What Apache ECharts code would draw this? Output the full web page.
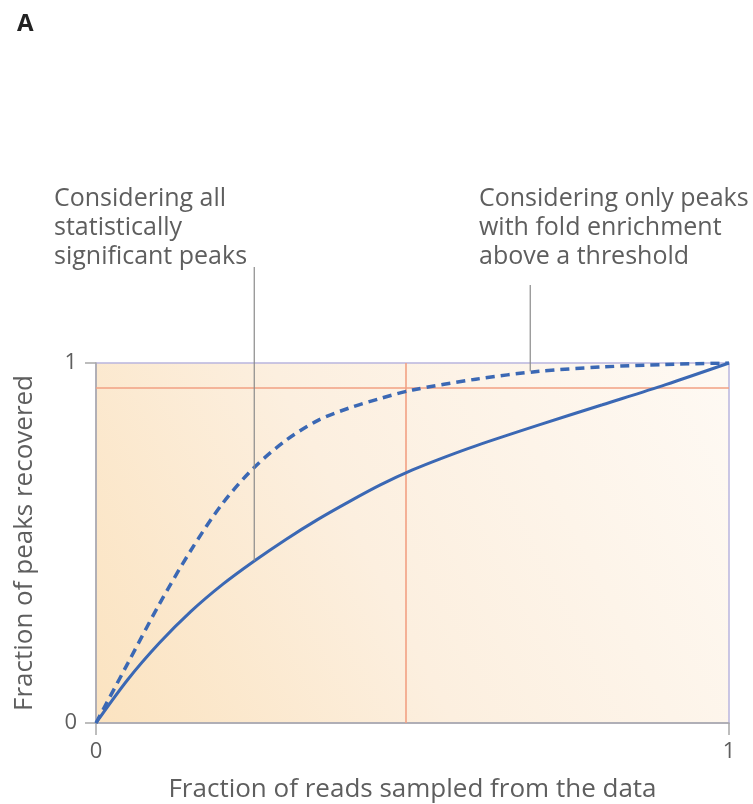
<!DOCTYPE html>
<html>
<head>
<meta charset="utf-8">
<script src="https://cdn.jsdelivr.net/npm/echarts@6/dist/echarts.min.js"></script>
<style>
  html, body { margin: 0; padding: 0; background: #ffffff; }
  #chart { width: 753px; height: 804px; }
</style>
</head>
<body>
<div id="chart"></div>
<script>
// Saturation curves: fraction of peaks recovered vs. fraction of reads sampled
const readFraction = [0, 0.05, 0.1, 0.15, 0.2, 0.25, 0.3, 0.35, 0.4, 0.45, 0.5, 0.55, 0.6, 0.7, 0.8, 0.9, 1];
const allPeaksRecovered = [0, 0.12, 0.222, 0.31, 0.385, 0.45, 0.51, 0.565, 0.615, 0.662, 0.703, 0.738, 0.77, 0.828, 0.884, 0.94, 1];

const readFractionFold = [0, 0.05, 0.1, 0.15, 0.2, 0.25, 0.3, 0.35, 0.4, 0.45, 0.5, 0.6, 0.7, 0.8, 0.9, 1];
const foldPeaksRecovered = [0, 0.165, 0.33, 0.48, 0.61, 0.71, 0.785, 0.84, 0.875, 0.902, 0.925, 0.955, 0.977, 0.989, 0.996, 1];

// Reference lines: fraction of reads where the thresholded set saturates
const thresholdRead = 0.49;
const thresholdRecovered = 0.925;

const xTicks = [0, 1];
const yTicks = [0, 1];

const annotationAll = ['Considering all', 'statistically', 'significant peaks'];
const annotationFold = ['Considering only peaks', 'with fold enrichment', 'above a threshold'];
const pointerAll = [0.25, 0.45];
const pointerFold = [0.686, 0.977];

const xTitle = 'Fraction of reads sampled from the data';
const yTitle = 'Fraction of peaks recovered';

const blue = '#3b68b4';
const red = '#f2a083';
const textColor = '#5e5e5e';
const font = '"Open Sans", Lato, sans-serif';

const chart = echarts.init(document.getElementById('chart'));

function pairs(xs, ys) { return xs.map((x, i) => [x, ys[i]]); }

const option = {
  animation: false,
  backgroundColor: '#ffffff',
  grid: {
    left: 96, right: 24, top: 363, bottom: 79,
    show: true,
    borderColor: '#b9b5de',
    borderWidth: 1.5,
    backgroundColor: new echarts.graphic.LinearGradient(0, 1, 1, 0.1, [
      { offset: 0, color: '#fbe3c0' },
      { offset: 0.45, color: '#fcefdf' },
      { offset: 1, color: '#fef9f3' }
    ])
  },
  xAxis: {
    type: 'value', min: 0, max: 1, interval: 1,
    name: xTitle, nameLocation: 'middle', nameGap: 54,
    nameTextStyle: { color: textColor, fontSize: 26, fontFamily: font },
    axisLine: { show: true, lineStyle: { color: '#a8a8a8', width: 1.5 } },
    axisTick: { show: true, length: 12, lineStyle: { color: '#a8a8a8', width: 1.5 } },
    axisLabel: {
      color: textColor, fontSize: 22, fontFamily: font, margin: 18,
      formatter: v => xTicks.includes(v) ? String(v) : ''
    },
    splitLine: { show: false }
  },
  yAxis: {
    type: 'value', min: 0, max: 1, interval: 1,
    name: yTitle, nameLocation: 'middle', nameGap: 58, nameRotate: 90,
    nameTextStyle: { color: textColor, fontSize: 26, fontFamily: font },
    axisLine: { show: true, lineStyle: { color: '#a8a8a8', width: 1.5 } },
    axisTick: { show: true, length: 11, lineStyle: { color: '#a8a8a8', width: 1.5 } },
    axisLabel: {
      color: textColor, fontSize: 22, fontFamily: font, margin: 19,
      formatter: v => yTicks.includes(v) ? String(v) : ''
    },
    splitLine: { show: false }
  },
  series: [
    {
      type: 'line',
      name: 'all peaks',
      data: pairs(readFraction, allPeaksRecovered),
      smooth: 0.3,
      symbol: 'none',
      lineStyle: { color: blue, width: 3 },
      z: 5,
      markLine: {
        silent: true,
        symbol: 'none',
        label: { show: false },
        lineStyle: { color: red, width: 1.6, type: 'solid' },
        data: [
          { xAxis: thresholdRead },
          { yAxis: thresholdRecovered }
        ],
        z: 2
      }
    },
    {
      type: 'line',
      name: 'fold enrichment peaks',
      data: pairs(readFractionFold, foldPeaksRecovered),
      smooth: 0.3,
      symbol: 'none',
      lineStyle: { color: blue, width: 3.5, type: [9, 6] },
      z: 5
    }
  ]
};

chart.setOption(option);

// Annotations and their pointer lines, anchored to data coordinates
function textBlock(lines, left, top) {
  return {
    type: 'text',
    left: left, top: top,
    style: {
      text: lines.join('\n'),
      fill: textColor,
      font: '25px ' + font,
      lineHeight: 29
    }
  };
}

const pA = chart.convertToPixel({ gridIndex: 0 }, pointerAll);
const pF = chart.convertToPixel({ gridIndex: 0 }, pointerFold);

chart.setOption({
  graphic: [
    {
      type: 'text', left: 17, top: 12,
      style: { text: 'A', fill: '#222', font: 'bold 24px ' + font }
    },
    textBlock(annotationAll, 54, 184),
    textBlock(annotationFold, 479, 184),
    {
      type: 'line', silent: true, z: 10,
      shape: { x1: pA[0], y1: 267, x2: pA[0], y2: pA[1] },
      style: { stroke: '#8a8a8a', lineWidth: 1.2 }
    },
    {
      type: 'line', silent: true, z: 10,
      shape: { x1: pF[0], y1: 285, x2: pF[0], y2: pF[1] },
      style: { stroke: '#8a8a8a', lineWidth: 1.2 }
    }
  ]
});
</script>
</body>
</html>
